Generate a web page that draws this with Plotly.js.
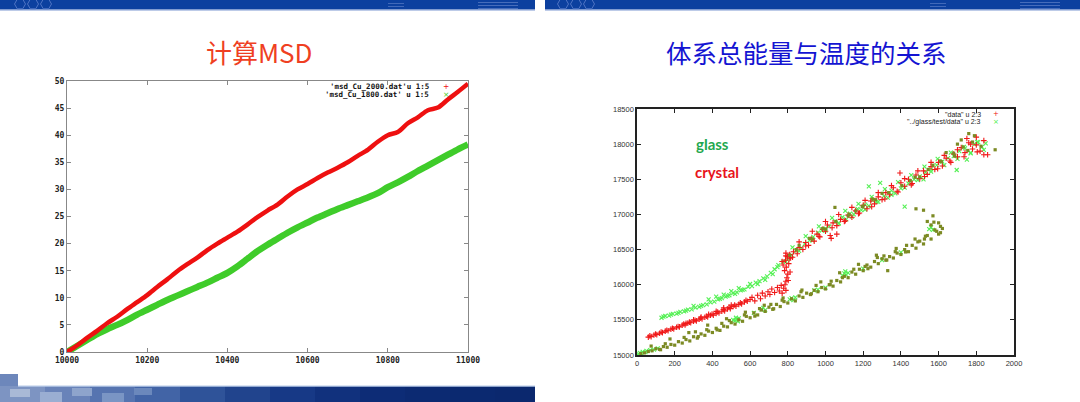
<!DOCTYPE html>
<html><head><meta charset="utf-8">
<script src="https://cdn.plot.ly/plotly-3.0.1.min.js"></script>
<style>html,body{margin:0;padding:0;background:#fff;}#c{width:1080px;height:402px;}</style>
</head><body><div id="c"></div>
<script>
// ---------- Left chart data (MSD) ----------
const msdTime = [10000,10025,10050,10075,10100,10125,10150,10175,10200,10225,10250,10275,10300,10325,10350,10375,10400,10425,10450,10475,10500,10525,10550,10575,10600,10625,10650,10675,10700,10725,10750,10775,10800,10825,10850,10875,10900,10925,10950,10975,11000];
const msdCu2000 = [0,1.2,2.6,3.9,5.3,6.5,7.9,9.2,10.5,12.0,13.4,14.9,16.2,17.4,18.8,20.0,21.1,22.2,23.5,24.9,26.1,27.2,28.7,30.0,31.0,32.1,33.1,34.0,35.0,36.2,37.3,38.8,40.0,40.6,42.2,43.3,44.6,45.1,46.6,48.0,49.5];
const msdCu1800 = [0,1.1,2.2,3.3,4.2,5.0,5.9,6.9,7.8,8.7,9.6,10.4,11.2,12.0,12.8,13.7,14.6,15.8,17.2,18.6,19.8,20.9,22.0,23.0,23.9,24.8,25.6,26.4,27.1,27.8,28.5,29.3,30.4,31.3,32.3,33.4,34.4,35.4,36.4,37.4,38.3];
const msdXTicks = [10000,10200,10400,10600,10800,11000];
const msdYTicks = [0,5,10,15,20,25,30,35,40,45,50];
const msdLegend = ["'msd_Cu_2000.dat'u 1:5", "'msd_Cu_1800.dat' u 1:5"];

// ---------- Right chart data (energy vs temperature) ----------
const crystalT = [60,75,90,105,120,135,150,165,180,195,210,225,240,255,270,285,300,315,330,345,360,375,390,405,420,435,450,465,480,495,510,525,540,555,570,585,600,
  68,98,128,158,188,218,248,278,308,338,368,398,428,458,488,518,548,578,
  260,300,340,380,420,460,500,
  610,625,640,655,665,680,695,705,715,730,745,755,765,770,
  778,785,790,795,800,783,792,805,788,798,810,775,812,802,790,815,
  770,790,810,830,850,860,880,895,910,925,940,955,970,985,1000,1010,1025,1040,1060,1080,1100,1120,1140,1160,1180,1200,1220,1240,1260,1280,1300,1320,1340,1360,1380,1400,1420,1440,1460,1480,1500,1520,1540,1560,1580,1600,1620,1640,1660,1680,1700,1720,1740,1760,1780,1800,1820,1840,1860,1750,1800,1395,1030,1060,
  790,825,860,895,930,965,1000,1035,1070,1105,1140,1175,1210,1245,1280,1315,1350,1385,1420,1455,1490,1525,1560,1595,1630,1665,1700,1735,1770,1805,1840];
const crystalE = [15255,15262,15285,15290,15310,15318,15340,15345,15368,15372,15395,15400,15425,15428,15455,15458,15480,15485,15510,15512,15538,15540,15565,15568,15592,15598,15622,15628,15655,15660,15690,15695,15720,15728,15755,15765,15790,
  15272,15298,15326,15352,15380,15405,15440,15468,15495,15525,15552,15582,15612,15645,15678,15712,15742,15778,
  15450,15500,15540,15580,15620,15670,15710,
  15820,15770,15850,15800,15880,15840,15900,15860,15940,15890,15960,15910,15990,15880,
  15950,16000,16050,16100,16150,16200,16250,16300,16350,16400,16430,16280,16180,16060,15920,16380,
  16330,16410,16380,16470,16440,16530,16500,16600,16560,16650,16620,16720,16680,16790,16760,16850,16700,16880,16840,16930,16900,16990,16960,17050,17020,17130,17080,17190,17150,17250,17210,17310,17280,17380,17330,17450,17400,17500,17440,17560,17510,17620,17570,17680,17640,17740,17690,17800,17760,17860,17820,17950,17880,18020,17930,17990,17900,17850,17850,18080,18100,17590,16660,16720,
  16450,16390,16610,16550,16760,16690,16900,16810,17000,16910,17100,17010,17200,17110,17310,17220,17410,17320,17510,17420,17620,17540,17740,17650,17840,17740,17920,17820,18000,17890,18050];

const glassT = [130,150,170,190,210,230,250,270,290,310,330,350,370,390,410,430,450,470,490,510,530,550,570,590,610,630,650,670,690,710,730,745,
  140,180,220,260,340,440,480,520,560,640,680,720,
  300,380,420,460,500,540,600,
  750,775,800,820,845,870,890,915,935,960,980,1000,1020,1050,1070,1090,1110,1130,1150,1170,1190,1210,1230,1250,1270,1290,1230,1310,1330,1350,1370,1400,1420,1440,1470,1500,1530,1560,1590,1620,1650,1680,1696,1710,1740,1770,1790,1810,1830,1750,1520,1850,
  790,825,860,895,930,965,1000,1035,1070,1105,1140,1175,1210,1245,1280,1315,1350,1385,1420,1455,1490,1525,1560,1595,1630,1665,1700,1735,1770,1805,1840,
  0,10,15,25,30,45,50,70,90,110,510,520,530,540,525,535,660,670,680,810,820,830,840,1090,1100,1110,1120,1105,1550,1560,1570,1000,960,1200,1300,1400,620,940];
const glassE = [15530,15555,15560,15585,15590,15615,15620,15645,15650,15675,15685,15710,15720,15750,15760,15790,15810,15830,15850,15880,15890,15920,15935,15970,15980,16030,16050,16090,16120,16170,16220,16250,
  15545,15575,15600,15632,15700,15800,15842,15870,15928,16010,16070,16150,
  15700,15790,15830,15860,15910,15950,16010,
  16280,16330,16360,16420,16480,16520,16580,16630,16680,16740,16770,16800,16830,16900,16880,16960,16930,17010,17000,17080,17060,17140,17120,17200,17180,17450,17400,17260,17240,17340,17300,17370,17110,17440,17500,17540,17600,17640,17700,17750,17800,17830,17632,17900,17940,17880,18000,18030,17960,17780,17500,18010,
  16330,16530,16480,16690,16630,16830,16770,16950,16870,17050,16970,17150,17070,17250,17180,17360,17280,17460,17380,17560,17490,17680,17610,17790,17700,17880,17790,17960,17870,18030,17920,
  15000,15010,15030,15020,15045,15040,15060,15070,15075,15095,15500,15490,15510,15520,15530,15480,15650,15670,15640,15790,15810,15780,15820,16130,16160,16140,16170,16190,16790,16820,16780,15960,15930,16230,16350,16460,15600,15920];

const overlapT = [20,40,60,80,100,120,140,160,180,200,220,240,260,280,300,320,340,360,380,400,420,440,460,480,500,520,540,560,580,600,620,640,660,680,700,720,740,760,780,800,820,840,860,880,900,920,940,960,980,1000,1020,1040,1060,1080,1100,1120,1140,1160,1180,1200,1220,1240,1260,1280,1300,1320,1340,1360,1380,1400,1420,1440,1460,1480,1500,1520,1540,1560,1580,1600,1620,1540,1570,1520,1480,1560,1600,1330,1270,
  150,250,310,370,450,490,570,650,710,770,870,950,1030,1090,1150,1210,1310,1370,1430,1490,1530,1590,1610,
  75,125,175,275,325,375,425,475,575,625,675,725,775,875,925,975,1025,1075,1175,1225,1275,1325,1375,1425,1475,1525,1575,1610,
  810,860,930,1000,1050,1120,1160,1200,1250,1300,1450,1500,1570,1610,1640,1680,1700,1730,1760,1790,1900,
  845,915,985,1055,1125,1195,1265,1335,1405,1475,1545,1615,1685,1755,1825,1720,1780];
const overlapE = [15020,15030,15050,15060,15090,15080,15120,15110,15150,15140,15190,15170,15220,15200,15260,15240,15300,15280,15340,15320,15380,15350,15410,15400,15460,15440,15500,15480,15550,15530,15600,15570,15640,15620,15680,15650,15720,15690,15760,15740,15800,15770,15840,15820,15880,15860,15920,15900,15960,15940,16000,15980,16060,16040,16120,16100,16180,16150,16220,16200,16280,16250,16330,16300,16370,16350,16400,16380,16450,16430,16500,16470,16560,16520,16620,16580,16700,16650,16780,16720,16800,16900,16980,17060,17080,16850,16880,16200,16420,
  15160,15250,15330,15360,15450,15490,15570,15660,15720,15780,15900,15990,16050,16100,16220,16260,16410,16470,16560,16610,16690,16760,16830,
  15127,15075,15228,15319,15262,15425,15358,15516,15609,15553,15708,15658,15812,15924,15872,16040,16002,16170,16290,16228,16387,16351,16516,16466,16650,16650,16890,16740,
  16420,16560,16650,16790,17100,16980,17050,17120,17220,17300,17480,17530,17700,17760,17880,17870,18000,17960,18150,18120,17920,
  16500,16660,16800,16900,17000,17110,17210,17310,17410,17530,17640,17750,17830,17910,17970,18060,18030];

const energyXTicks = [0,200,400,600,800,1000,1200,1400,1600,1800,2000];
const energyYTicks = [15000,15500,16000,16500,17000,17500,18000,18500];
const energyLegend = ['"data" u 2:3', '"../glass/test/data" u 2:3'];
const labelTexts = ['glass', 'crystal'];
const slideTitles = ['计算MSD', '体系总能量与温度的关系'];

// ---------- helpers (pixel -> paper) ----------
const W = 1080, H = 402;
const px = x => x / W, py = y => 1 - y / H;
function rect(x0, y0, x1, y1, color, extra) {
  return Object.assign({type:'rect', xref:'paper', yref:'paper', x0:px(x0), x1:px(x1), y0:py(y1), y1:py(y0),
    fillcolor:color, line:{width:0}, layer:'below'}, extra || {});
}
function hex(cx, cy, r, color) {
  let d = '';
  for (let i = 0; i < 6; i++) {
    const a = Math.PI / 3 * i;
    const x = px(cx + r * Math.cos(a)), y = py(cy + r * Math.sin(a));
    d += (i === 0 ? 'M' : 'L') + x + ',' + y + ' ';
  }
  return {type:'path', xref:'paper', yref:'paper', path:d + 'Z', line:{color:color, width:1}, layer:'above'};
}

const shapes = [];
shapes.push(rect(0, 0, 535, 9.5, '#0c409f'));
shapes.push(rect(0, 9.5, 535, 10.5, '#7c98d2'));
shapes.push(rect(545, 0, 1080, 9.5, '#0c409f'));
shapes.push(rect(545, 9.5, 1080, 10.5, '#7c98d2'));
[[20,4],[33,4],[46,4]].forEach(h => shapes.push(hex(h[0], h[1], 5.5, '#4f74c4')));
[[563,4],[576,4],[589,4]].forEach(h => shapes.push(hex(h[0], h[1], 5.5, '#4f74c4')));
[[388,3],[388,6],[478,2],[478,5],[478,8]].forEach(s => shapes.push(rect(s[0], s[1], s[0] + (s[0] > 450 ? 40 : 16), s[1] + 0.7, '#5a7cc4')));
[[930,3],[930,6],[1020,2],[1020,5],[1020,8]].forEach(s => shapes.push(rect(s[0], s[1], s[0] + (s[0] > 1000 ? 40 : 16), s[1] + 0.7, '#5a7cc4')));
const bandCols = ['#7d94c2','#6983b9','#5674b0','#4264a6','#2f5399','#21448d','#173986','#11317d','#0d2c76','#0c2a72','#0b2970','#0b286e'];
bandCols.forEach((c, i) => shapes.push(rect(i * 45, 386, i === bandCols.length - 1 ? 535 : (i + 1) * 45, 402, c)));
shapes.push(rect(0, 374, 18, 386, '#6d87bb'));
shapes.push(rect(18, 385.5, 535, 386.8, '#b9cbe8'));
[[10,389,30,397,'#a9b9d6'],[40,392,62,402,'#9aaed2'],[72,388,92,396,'#8ea4cc'],[102,393,124,402,'#7a95c4'],[134,388,152,395,'#6b88bc']]
  .forEach(k => shapes.push(rect(k[0], k[1], k[2], k[3], k[4])));

const annotations = [];
function ann(text, x, y, font, xanchor) {
  annotations.push({text:text, xref:'paper', yref:'paper', x:px(x), y:py(y), showarrow:false,
    xanchor:xanchor || 'center', yanchor:'middle', font:font});
}
ann(slideTitles[0], 259, 52, {family:'Noto Sans CJK SC', size:26, color:'#ef3f22'});
ann(slideTitles[1], 806, 51, {family:'Noto Sans CJK SC', size:25.5, color:'#1414d2'});
const monoB = {family:'DejaVu Sans Mono', size:7.5, color:'#111', weight:'bold'};
ann(msdLegend[0], 431, 86, monoB, 'right');
ann(msdLegend[1], 431, 95, monoB, 'right');
ann('+', 446, 86, {family:'DejaVu Sans', size:7.5, color:'#ee1111'});
ann('×', 446, 95, {family:'DejaVu Sans', size:7.5, color:'#44cc22'});
const sansS = {family:'Liberation Sans', size:7, color:'#222'};
ann(energyLegend[0], 983, 114.5, sansS, 'right');
ann(energyLegend[1], 983, 122.5, sansS, 'right');
ann('+', 996, 114.5, {family:'DejaVu Sans', size:7, color:'#ee1111'});
ann('×', 996, 122.5, {family:'DejaVu Sans', size:7, color:'#44ee44'});
ann(labelTexts[0], 712, 144, {family:'Lato', size:15, color:'#1fa84f', weight:'bold'});
ann(labelTexts[1], 717, 172, {family:'Lato', size:15, color:'#e8141c', weight:'bold'});

const traces = [
  {x:msdTime, y:msdCu1800, xaxis:'x', yaxis:'y', mode:'lines', line:{color:'#3fcc2a', width:6.5, shape:'spline', smoothing:0.8}, name:msdLegend[1]},
  {x:msdTime, y:msdCu2000, xaxis:'x', yaxis:'y', mode:'lines', line:{color:'#ee1010', width:4.5, shape:'spline', smoothing:0.8}, name:msdLegend[0]},
  {x:glassT, y:glassE, xaxis:'x2', yaxis:'y2', mode:'markers', name:energyLegend[1],
    marker:{symbol:'x-thin-open', size:4, line:{color:'#55f055', width:1.1}, color:'#55f055'}},
  {x:crystalT, y:crystalE, xaxis:'x2', yaxis:'y2', mode:'markers', name:energyLegend[0],
    marker:{symbol:'cross-thin-open', size:4, line:{color:'#f01818', width:1.1}, color:'#f01818'}},
  {x:overlapT, y:overlapE, xaxis:'x2', yaxis:'y2', mode:'markers', showlegend:false,
    marker:{symbol:'square', size:3.2, color:'#7c8a24', line:{width:0}}}
];

const leftTick = {family:'DejaVu Sans Mono', size:8, color:'#222', weight:'bold'};
const rightTick = {family:'Liberation Sans', size:7.5, color:'#333'};
const common = {ticks:'inside', ticklen:4, showline:true, mirror:'ticks', showgrid:false, zeroline:false, fixedrange:true};
const layout = {
  width:W, height:H, margin:{l:0, r:0, t:0, b:0}, paper_bgcolor:'#fff', plot_bgcolor:'#fff',
  showlegend:false, shapes:shapes, annotations:annotations,
  xaxis:Object.assign({domain:[px(67), px(468)], range:[10000, 11000], tickvals:msdXTicks, ticktext:msdXTicks.map(String),
    tickcolor:'#888', linecolor:'#888', linewidth:1, tickfont:leftTick, anchor:'y'}, common),
  yaxis:Object.assign({domain:[py(352), py(81)], range:[0, 50], tickvals:msdYTicks, ticktext:msdYTicks.map(String),
    tickcolor:'#888', linecolor:'#888', linewidth:1, tickfont:leftTick, anchor:'x'}, common),
  xaxis2:Object.assign({domain:[px(637), px(1014)], range:[0, 2000], tickvals:energyXTicks, ticktext:energyXTicks.map(String),
    tickcolor:'#222', linecolor:'#222', linewidth:1.6, tickfont:rightTick, anchor:'y2'}, common),
  yaxis2:Object.assign({domain:[py(355), py(109)], range:[15000, 18500], tickvals:energyYTicks, ticktext:energyYTicks.map(String),
    tickcolor:'#222', linecolor:'#222', linewidth:1.6, tickfont:rightTick, anchor:'x2'}, common)
};
Plotly.newPlot('c', traces, layout, {staticPlot:true});
</script></body></html>
